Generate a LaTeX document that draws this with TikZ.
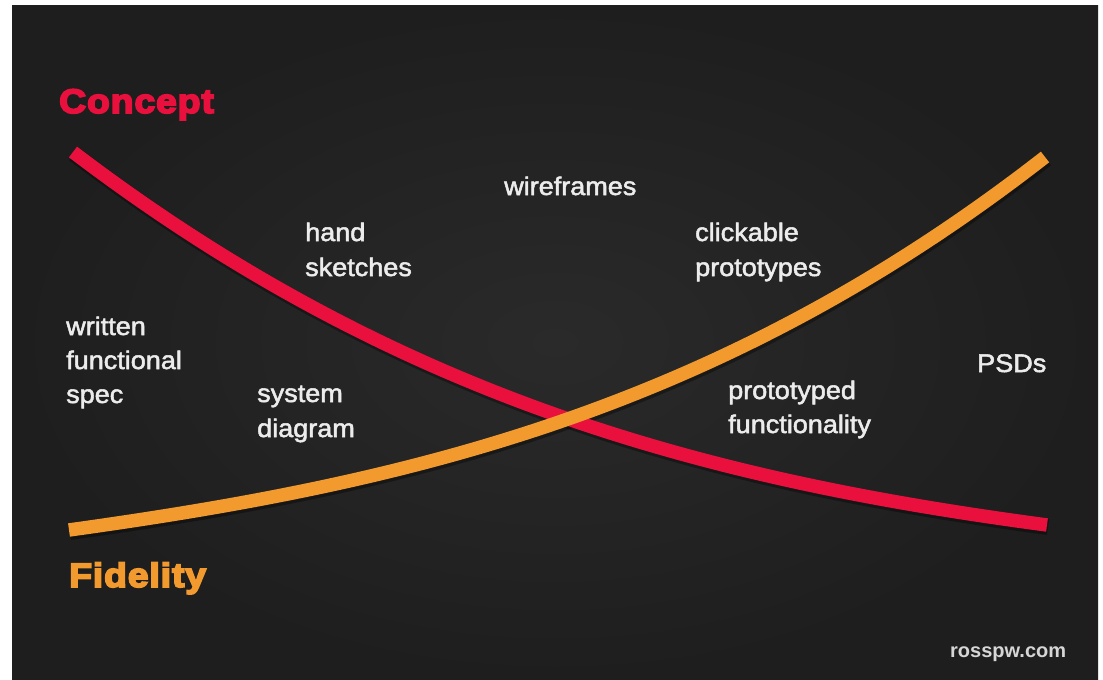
\documentclass[tikz,border=0pt]{standalone}
\usepackage{fontspec}
\setmainfont{Liberation Sans}
\newfontfamily\headfont{Liberation Sans Bold}[FakeBold=5,FakeStretch=1.1,LetterSpace=2.5]
\newfontfamily\labelfont{Liberation Sans}[FakeBold=2,FakeStretch=1.06]
\newfontfamily\creditfont{Liberation Sans Bold}

\definecolor{slate}{RGB}{30,30,30}
\definecolor{slatemid}{RGB}{42,42,42}
\definecolor{conceptred}{RGB}{233,16,62}
\definecolor{fidelityorange}{RGB}{242,154,46}
\definecolor{labelwhite}{RGB}{236,236,236}
\definecolor{creditgrey}{RGB}{214,214,214}

\tikzset{
  curve/.style={line width=13.5pt, line cap=butt},
  curveshadow/.style={line width=16pt, line cap=butt, black, opacity=0.35},
  heading/.style={anchor=base west, inner sep=0pt, font=\headfont\fontsize{34}{34}\selectfont},
  lbl/.style={anchor=base west, inner sep=0pt, text=labelwhite, font=\labelfont\fontsize{25.5}{30}\selectfont},
  credit/.style={anchor=base west, inner sep=0pt, text=creditgrey, font=\creditfont\fontsize{20}{24}\selectfont},
}

\begin{document}
\begin{tikzpicture}[x=1pt, y=-1pt]
  % page and dark panel
  \useasboundingbox (0,0) rectangle (1103,680);
  \fill[white] (0,0) rectangle (1103,680);
  \shade[inner color=slatemid, outer color=slate] (12,5) rectangle (1098,680);

  % end points of the two curves
  \coordinate (c0) at (73,152);
  \coordinate (c1) at (1047,525);
  \coordinate (f0) at (69,530);
  \coordinate (f1) at (1045,157);

  % soft shadows beneath the curves
  \draw[curveshadow, transform canvas={shift={(1pt,-2pt)}}]
    (c0) .. controls (403,403) and (717,481) .. (c1);
  \draw[curveshadow, transform canvas={shift={(1pt,-2pt)}}]
    (f0) .. controls (400,484) and (715,414) .. (f1);

  % concept curve falls, fidelity curve rises
  \draw[curve, conceptred] (c0) .. controls (403,403) and (717,481) .. (c1);
  \draw[curve, fidelityorange] (f0) .. controls (400,484) and (715,414) .. (f1);

  % headings
  \node[heading, text=conceptred] (concept) at (59,113) {Concept};
  \node[heading, text=fidelityorange] (fidelity) at (69,587) {Fidelity};

  % deliverables
  \node[lbl] (written) at (66,335) {written};
  \node[lbl] (functional) at (66,369) {functional};
  \node[lbl] (spec) at (66,403) {spec};

  \node[lbl] (system) at (257,402) {system};
  \node[lbl] (diagram) at (257,437) {diagram};

  \node[lbl] (hand) at (305,241) {hand};
  \node[lbl] (sketches) at (305,276) {sketches};

  \node[lbl] (wireframes) at (504,195) {wireframes};

  \node[lbl] (clickable) at (695,241) {clickable};
  \node[lbl] (prototypes) at (695,276) {prototypes};

  \node[lbl] (prototyped) at (728,399) {prototyped};
  \node[lbl] (functionality) at (728,433) {functionality};

  \node[lbl] (psds) at (977,372) {PSDs};

  \node[credit] (site) at (950,657) {rosspw.com};
\end{tikzpicture}
\end{document}
